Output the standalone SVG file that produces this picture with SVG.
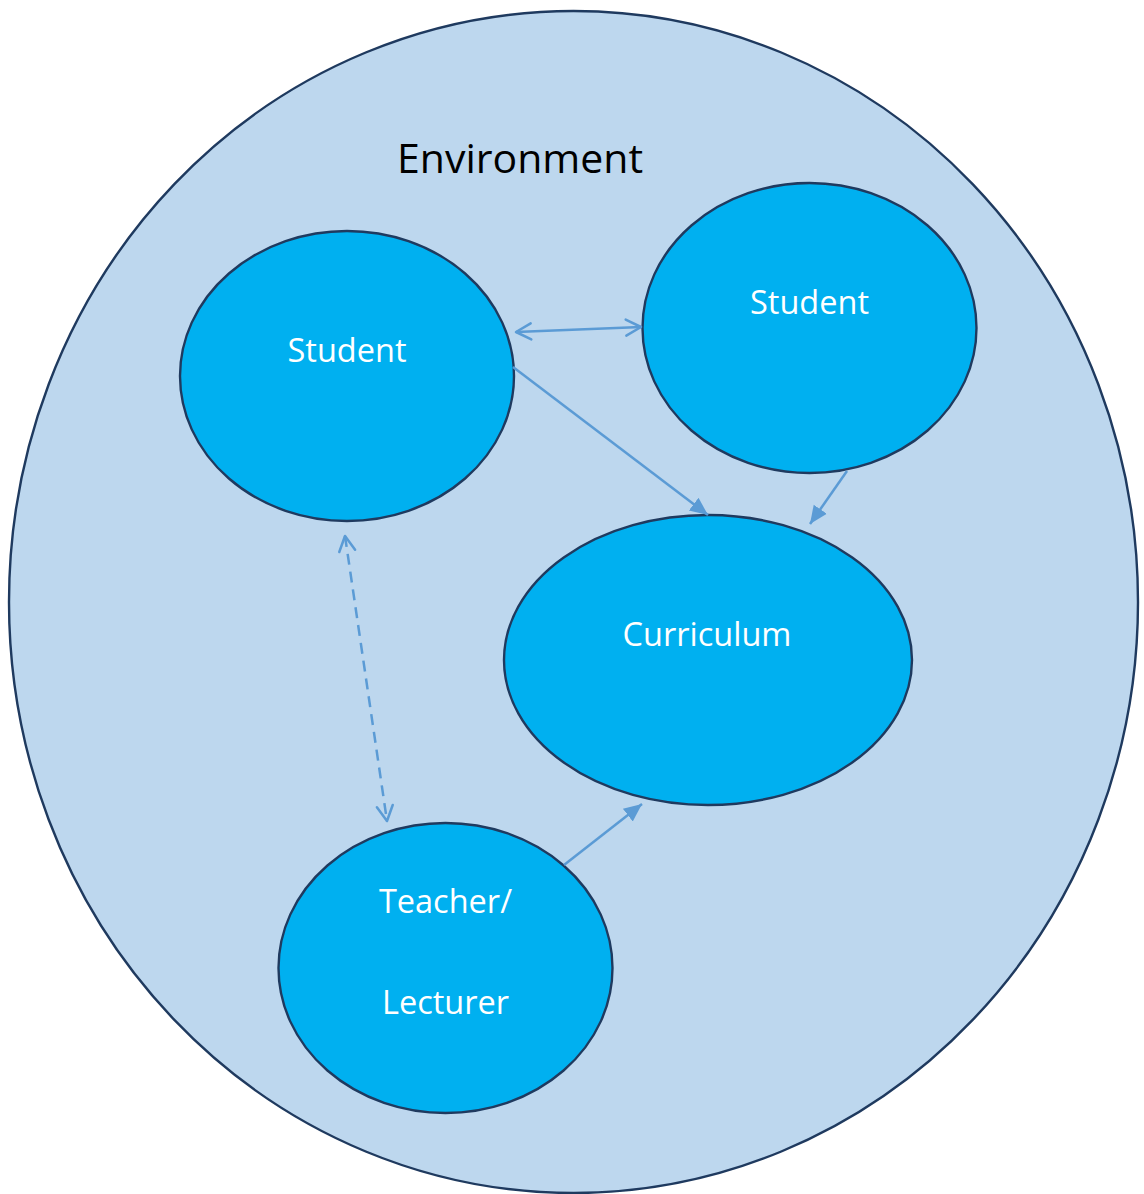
<svg xmlns="http://www.w3.org/2000/svg" width="1144" height="1194" viewBox="0 0 1144 1194">
  <style>
    .node { fill: #00B0F0; stroke: #1F3A5F; stroke-width: 2.4; }
    .label { font-family: "Open Sans", "Liberation Sans", sans-serif; fill: #FFFFFF; font-size: 32.5px; text-anchor: middle; }
    .title { font-family: "Open Sans", "Liberation Sans", sans-serif; fill: #000000; font-size: 41px; text-anchor: middle; }
    .link { stroke: #5B9BD5; stroke-width: 2.5; fill: none; }
    .dashed { stroke-dasharray: 11 7; }
  </style>
  <defs>
    <marker id="open" viewBox="0 0 20 20" refX="17" refY="10" markerWidth="20" markerHeight="20" markerUnits="userSpaceOnUse" orient="auto-start-reverse">
      <path d="M2,2 L17,10 L2,18" fill="none" stroke="#5B9BD5" stroke-width="2.5" stroke-linecap="round" stroke-linejoin="round"/>
    </marker>
    <marker id="solid" viewBox="0 0 20 20" refX="18" refY="10" markerWidth="20" markerHeight="20" markerUnits="userSpaceOnUse" orient="auto">
      <path d="M0,2 L18,10 L0,18 Z" fill="#5B9BD5"/>
    </marker>
  </defs>

  <g id="environment">
    <ellipse cx="573.5" cy="602" rx="564.5" ry="591" fill="#BDD7EE" stroke="#1F3A5F" stroke-width="2.4"/>
    <text class="title" x="520" y="173">Environment</text>
  </g>

  <g id="student-left">
    <ellipse class="node" cx="347" cy="376" rx="167" ry="145"/>
    <text class="label" x="347" y="362">Student</text>
  </g>

  <g id="student-right">
    <ellipse class="node" cx="809.5" cy="328" rx="167" ry="145"/>
    <text class="label" x="809.5" y="314">Student</text>
  </g>

  <g id="curriculum">
    <ellipse class="node" cx="708" cy="660" rx="204" ry="145"/>
    <text class="label" x="707" y="646">Curriculum</text>
  </g>

  <g id="teacher">
    <ellipse class="node" cx="445.5" cy="968" rx="167" ry="145"/>
    <text class="label" x="445.5" y="913">Teacher/</text>
    <text class="label" x="445.5" y="1014">Lecturer</text>
  </g>

  <g id="connectors">
    <line class="link" x1="516" y1="332" x2="641" y2="327" marker-start="url(#open)" marker-end="url(#open)"/>
    <line class="link" x1="513" y1="367" x2="708" y2="515" marker-end="url(#solid)"/>
    <line class="link" x1="847" y1="471" x2="810" y2="524" marker-end="url(#solid)"/>
    <line class="link" x1="564" y1="865" x2="642" y2="804" marker-end="url(#solid)"/>
    <line class="link dashed" x1="345" y1="536" x2="387" y2="821" marker-start="url(#open)" marker-end="url(#open)"/>
  </g>
</svg>
